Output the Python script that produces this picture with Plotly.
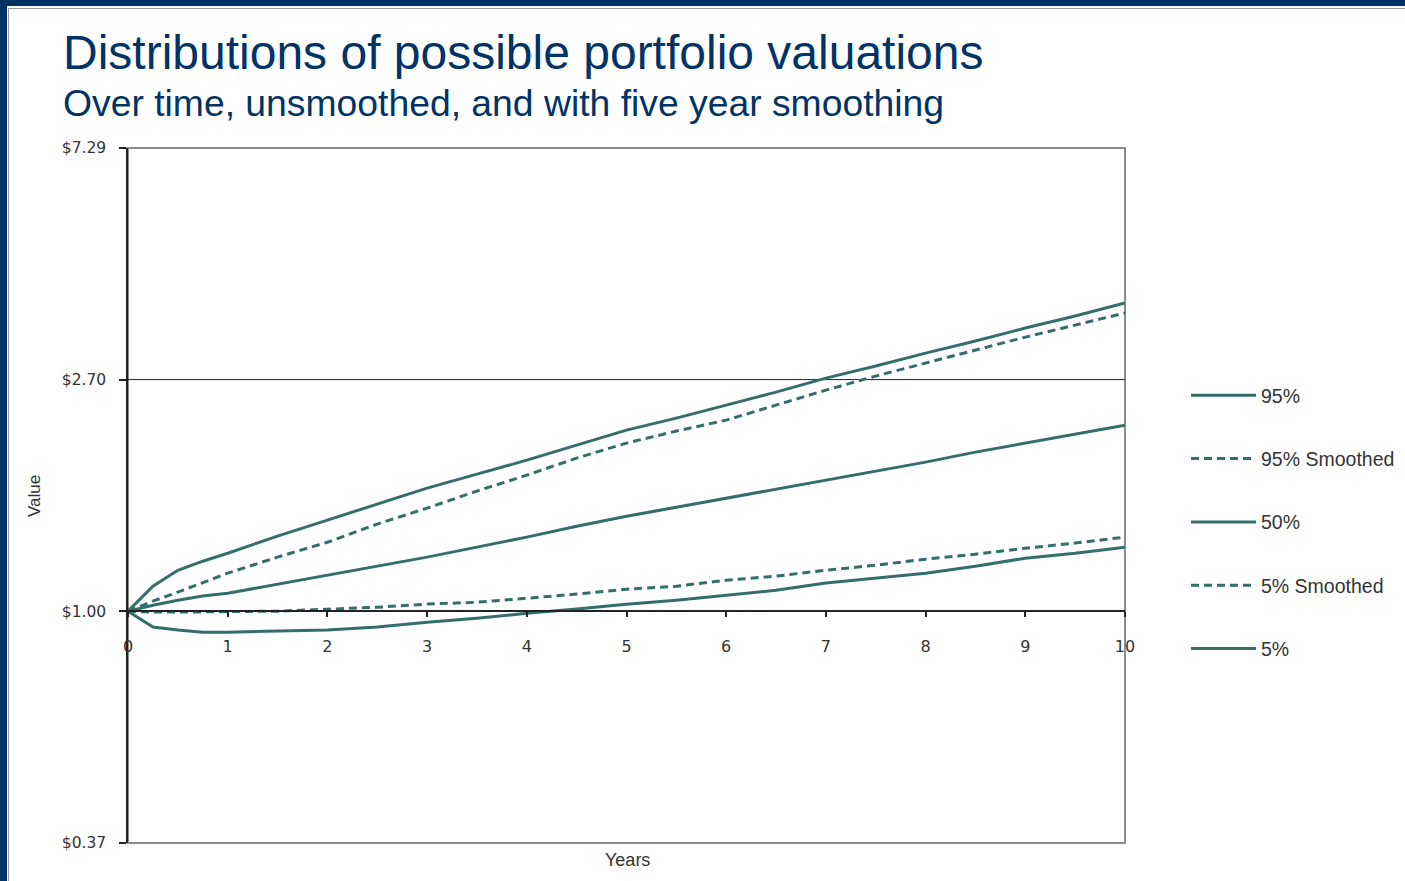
import math
import plotly.graph_objects as go

# ---- data ----
YEARS = [0, 0.25, 0.5, 0.75, 1, 1.5, 2, 2.5, 3, 3.5, 4, 4.5, 5, 5.5, 6, 6.5, 7, 7.5, 8, 8.5, 9, 9.5, 10]

P95 = [1.000, 1.113, 1.192, 1.239, 1.282, 1.380, 1.478, 1.583, 1.695, 1.800, 1.911, 2.038,
       2.174, 2.289, 2.420, 2.559, 2.717, 2.861, 3.025, 3.185, 3.368, 3.546, 3.749]
P95_SMOOTHED = [1.000, 1.044, 1.085, 1.132, 1.177, 1.261, 1.344, 1.453, 1.556, 1.674, 1.792, 1.928,
                2.056, 2.165, 2.269, 2.420, 2.581, 2.741, 2.898, 3.064, 3.240, 3.411, 3.592]
P50 = [1.000, 1.026, 1.048, 1.067, 1.080, 1.123, 1.167, 1.213, 1.261, 1.316, 1.374, 1.440,
       1.503, 1.562, 1.624, 1.688, 1.754, 1.824, 1.895, 1.978, 2.056, 2.137, 2.221]
P5_SMOOTHED = [1.000, 0.996, 0.996, 0.996, 0.998, 1.000, 1.009, 1.017, 1.031, 1.039, 1.057, 1.076,
               1.099, 1.113, 1.142, 1.162, 1.192, 1.218, 1.250, 1.277, 1.310, 1.339, 1.374]
P5 = [1.000, 0.934, 0.922, 0.914, 0.914, 0.918, 0.922, 0.934, 0.954, 0.970, 0.991, 1.009,
      1.030, 1.048, 1.071, 1.094, 1.128, 1.152, 1.177, 1.213, 1.255, 1.282, 1.316]

SERIES_NAMES = ["95%", "95% Smoothed", "50%", "5% Smoothed", "5%"]
SERIES_DASHED = [False, True, False, True, False]
Y_TICK_VALUES = [0.37, 1.00, 2.70, 7.29]
Y_TICK_LABELS = ["$0.37", "$1.00", "$2.70", "$7.29"]
X_TICK_VALUES = list(range(0, 11))
GRID_VALUE = 2.70

TITLE = "Distributions of possible portfolio valuations"
SUBTITLE = "Over time, unsmoothed, and with five year smoothing"

# ---- style ----
W, H = 1405, 881
ML, MR, MT, MB = 128, 280, 148, 38
PW, PH = W - ML - MR, H - MT - MB
NAVY = "#003366"
TEAL = "#336E6B"
TEXT = "#333333"


def px_x(px):
    return (px - ML) / PW


def px_y(py):
    return (H - MB - py) / PH


fig = go.Figure()
for name, vals, dashed in zip(SERIES_NAMES, [P95, P95_SMOOTHED, P50, P5_SMOOTHED, P5], SERIES_DASHED):
    fig.add_trace(go.Scatter(
        x=YEARS, y=vals, mode="lines", name=name, legendgroup=name,
        line=dict(color=TEAL, width=3, dash="8px,5px" if dashed else "solid"),
        hoverinfo="skip",
    ))

ylo, yhi = math.log10(Y_TICK_VALUES[0]), math.log10(Y_TICK_VALUES[-1])
xaxis_pos = (math.log10(1.0) - ylo) / (yhi - ylo)

fig.update_layout(
    width=W, height=H,
    margin=dict(l=ML, r=MR, t=MT, b=MB, autoexpand=False),
    paper_bgcolor="white", plot_bgcolor="white",
    font=dict(family="Liberation Sans, Arial, sans-serif", color=TEXT),
    showlegend=True,
    legend=dict(
        x=px_x(1186), y=px_y(376), xanchor="left", yanchor="top",
        font=dict(size=19.5, color=TEXT, family="Liberation Sans, Arial, sans-serif"),
        tracegroupgap=35, itemwidth=65, bgcolor="rgba(0,0,0,0)",
    ),
    xaxis=dict(
        range=[0, 10], tickvals=X_TICK_VALUES, ticktext=[str(v) for v in X_TICK_VALUES],
        anchor="free", position=xaxis_pos,
        showline=True, linecolor="#222222", linewidth=1.5,
        ticks="outside", ticklen=5, tickcolor="#222222", tickwidth=1.5,
        ticklabelstandoff=16,
        tickfont=dict(size=16, color=TEXT, family="DejaVu Sans, sans-serif"),
        showgrid=False, zeroline=False, fixedrange=True,
    ),
    yaxis=dict(
        type="log", range=[ylo, yhi],
        tickvals=Y_TICK_VALUES, ticktext=Y_TICK_LABELS,
        showline=True, linecolor="#222222", linewidth=1.5,
        ticks="outside", ticklen=7, tickcolor="#222222", tickwidth=1.5,
        ticklabelstandoff=10,
        tickfont=dict(size=15.5, color=TEXT, family="DejaVu Sans, sans-serif"),
        showgrid=False, zeroline=False, fixedrange=True,
    ),
)

shapes = [
    # plot frame
    dict(type="rect", xref="paper", yref="paper", x0=0, x1=1, y0=0, y1=1,
         line=dict(color="#8C8C8C", width=2), layer="below"),
    # grid line at $2.70
    dict(type="line", xref="paper", yref="y", x0=0, x1=1, y0=GRID_VALUE, y1=GRID_VALUE,
         line=dict(color="#222222", width=1), layer="below"),
    # slide frame
    dict(type="rect", xref="paper", yref="paper", x0=px_x(0), x1=px_x(7), y0=px_y(H), y1=px_y(0),
         line=dict(width=0), fillcolor=NAVY, layer="below"),
    dict(type="rect", xref="paper", yref="paper", x0=px_x(0), x1=px_x(W), y0=px_y(6), y1=px_y(0),
         line=dict(width=0), fillcolor=NAVY, layer="below"),
    dict(type="line", xref="paper", yref="paper", x0=px_x(8.5), x1=px_x(8.5), y0=px_y(8), y1=px_y(H),
         line=dict(color="#9A9A9A", width=1), layer="below"),
    dict(type="line", xref="paper", yref="paper", x0=px_x(8), x1=px_x(W), y0=px_y(8.5), y1=px_y(8.5),
         line=dict(color="#9A9A9A", width=1), layer="below"),
]
fig.update_layout(shapes=shapes)

annotations = [
    dict(text=TITLE, xref="paper", yref="paper", x=px_x(61), y=px_y(52), xanchor="left", yanchor="middle",
         showarrow=False, font=dict(size=48, color=NAVY, family="Liberation Sans, Arial, sans-serif")),
    dict(text=SUBTITLE, xref="paper", yref="paper", x=px_x(61), y=px_y(103), xanchor="left", yanchor="middle",
         showarrow=False, font=dict(size=37.3, color=NAVY, family="Liberation Sans, Arial, sans-serif")),
    dict(text="Value", xref="paper", yref="paper", x=px_x(35), y=px_y(496), xanchor="center", yanchor="middle",
         textangle=-90, showarrow=False, font=dict(size=17, color=TEXT)),
    dict(text="Years", xref="paper", yref="paper", x=px_x(627), y=px_y(860), xanchor="center", yanchor="middle",
         showarrow=False, font=dict(size=18, color=TEXT)),
]
fig.update_layout(annotations=annotations)

fig.write_html(
    "out.html",
    config={"displayModeBar": False},
    post_script="document.body.style.margin='0px';document.body.style.overflow='hidden';",
)
